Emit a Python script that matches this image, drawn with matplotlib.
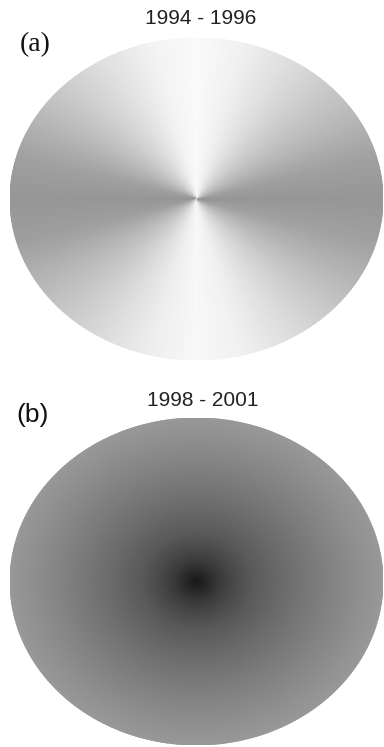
import numpy as np
import matplotlib
matplotlib.use("Agg")
import matplotlib.pyplot as plt

# panel (a): grey level (0-255) against direction, degrees counter-clockwise from east
angle_deg = [0, 15, 30, 45, 60, 75, 90, 105, 120, 135, 150, 165, 180,
             195, 210, 225, 240, 255, 270, 285, 300, 315, 330, 345, 360]
grey_a = [150, 160, 182, 202, 222, 240, 250, 242, 224, 204, 182, 160, 150,
          158, 180, 200, 220, 238, 248, 240, 222, 202, 180, 160, 150]

# panel (b): grey level against normalised radius
radius = [0.0, 0.05, 0.12, 0.2, 0.3, 0.45, 0.6, 0.75, 0.9, 1.0]
grey_b = [24, 38, 58, 74, 90, 106, 120, 133, 145, 152]

titles = ["1994 - 1996", "1998 - 2001"]
labels = ["(a)", "(b)"]

W, H = 384, 747
fig = plt.figure(figsize=(W / 100, H / 100), dpi=100)


def disc(ax, values_fn):
    th = np.radians(np.linspace(0, 360, 361))
    r = np.linspace(0, 1, 121)
    T, R = np.meshgrid(th, r)
    X = R * np.cos(T)
    Y = R * np.sin(T)
    C = values_fn(T, R)
    ax.pcolormesh(X, Y, C, shading="gouraud", cmap="gray", vmin=0, vmax=255)
    ax.set_xlim(-1, 1)
    ax.set_ylim(-1, 1)
    ax.axis("off")


# pixel boxes of the two discs: left, top, right, bottom
boxes = [(10, 38, 383, 360), (10, 418, 383, 745)]
for i, (l, t, rr, b) in enumerate(boxes):
    ax = fig.add_axes([l / W, 1 - b / H, (rr - l) / W, (b - t) / H])
    if i == 0:
        disc(ax, lambda T, R: np.interp(np.degrees(T), angle_deg, grey_a))
    else:
        disc(ax, lambda T, R: np.interp(R, radius, grey_b))

fig.text(201 / W, 1 - 19 / H, titles[0], ha="center", va="center",
         fontsize=15, family="Liberation Sans", color="#222222")
fig.text(203 / W, 1 - 401 / H, titles[1], ha="center", va="center",
         fontsize=15, family="Liberation Sans", color="#222222")
fig.text(35 / W, 1 - 45 / H, labels[0], ha="center", va="center",
         fontsize=20, family="Liberation Serif", color="#111111")
fig.text(33 / W, 1 - 415 / H, labels[1], ha="center", va="center",
         fontsize=19, family="Liberation Sans", color="#111111")

fig.savefig("out.png", dpi=100, facecolor="white")
